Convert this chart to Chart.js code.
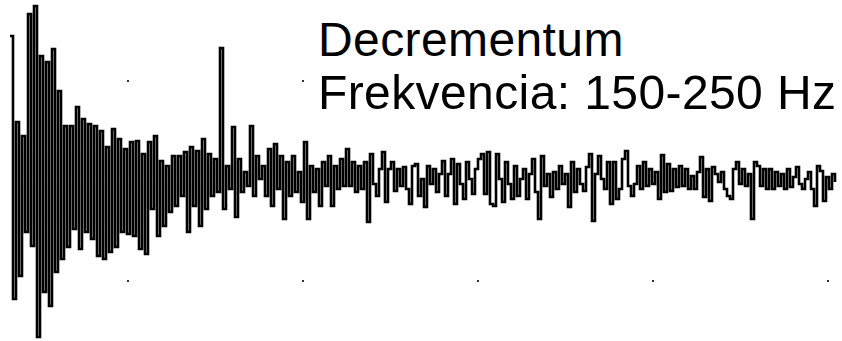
<!DOCTYPE html>
<html>
<head>
<meta charset="utf-8">
<script src="https://cdn.jsdelivr.net/npm/chart.js@4/dist/chart.umd.min.js"></script>
<style>
html, body { margin: 0; padding: 0; background: #ffffff; }
#wrap { position: relative; width: 842px; height: 341px; overflow: hidden; background: #ffffff; }
#c { position: absolute; left: 0; top: 0; }
.lbl { position: absolute; left: 318px; font-family: "Liberation Sans", Arial, sans-serif; font-size: 48px; letter-spacing: 0.4px; line-height: 53px; color: #000; background: #ffffff; white-space: nowrap; }
</style>
</head>
<body>
<div id="wrap">
  <canvas id="c" width="842" height="341"></canvas>
  <div class="lbl" id="t1" style="top:13px"></div>
  <div class="lbl" id="t2" style="top:66px"></div>
</div>
<script>
// ---- text ----
const titleText = "Decrementum";
const subtitleText = "Frekvencia: 150-250 Hz";

// ---- sampling (ms) ----
const startTime = 11.4;
const samplePeriod = 0.6;

// ---- signal amplitude ----
const attack = [145,-118,59,-95,45,-51,167,-65,175,-156,125,-111,119,-125,132,-91,90,-78,55,-66,55,-48];
const decay = [74,-68,62,-51,57,-58,55,-75,50,-78,34,-71,52,-66,42,-51,32,-53,39,-55,40,-68,27,-73,39,-28,45,-55,20,-45,15,-31,25,-25,25];
const middle = [-15,29,-51,34,-25,30,-45,42,-28,27,-15,22,-11,133,-28,15,-8,54,-36,22,-11,9,-5,55,-15,25,2,15,-15,32,-25,37,-8,25,-38,19,-15,25,-11,9,-21,39,-38,15,-11,12,-25,19,-5,25,-25,15,-8,22,-5,32,-5,19,-11,15,-8,19,-41,27,-3];
const tailA = [-15,12,29,-21,12,19,-10,12,-5,14,-8,-23,15,17,-15,2,-26,15,-3,12,-11,7,20,-15,7,22,-23,17,-3,-18,19,2,-13,12,22,27,-13,29,-23,-25,27,2,-21,19,-3,-18,15,-15,2,12,-18,7,22,-11,-38,25,-5,7,-16,9,-8,15,-3,7,-26,19,-11,12,-3,-10,14,27,-40,7,25,2,-8,19];
const tailB = [-23,19,-18,-8,22,30,-5,-15,-3,15,-8,19,-5,12,-3,9,-18,26,-11,17,-10,12,-6,15,-5,12,-8,5,-8,9,24,-16,12,-20,14,7,-1,9,-8,-15,-18,12,19,-3,12,-5,7,-38,19,15,-5,12,-8,12,-8,9,-5,7,-8,12,-6,4,14,-3,-8,2,9,-8,-25,15,10,-20,4,-8,7,-1];

// ---- grid marks (axis tick values) ----
const gridTimes = [35, 70, 105, 140, 175];
const gridLevels = [100, -100];

document.getElementById('t1').textContent = titleText;
document.getElementById('t2').textContent = subtitleText;

const signal = [].concat(attack, decay, middle, tailA, tailB);
const points = signal.map((v, i) => ({ x: startTime + i * samplePeriod, y: v }));

const gridDots = {
  id: 'gridDots',
  beforeDatasetsDraw(chart) {
    const ctx = chart.ctx, xs = chart.scales.x, ys = chart.scales.y;
    ctx.save();
    ctx.fillStyle = '#333333';
    gridTimes.forEach(t => {
      gridLevels.forEach(l => {
        const px = Math.round(xs.getPixelForValue(t));
        const py = Math.round(ys.getPixelForValue(l));
        ctx.fillRect(px - 1, py - 1, 2, 2);
      });
    });
    ctx.restore();
  }
};

new Chart(document.getElementById('c'), {
  type: 'line',
  data: {
    datasets: [{
      data: points,
      borderColor: '#000000',
      borderWidth: 2.6,
      pointRadius: 0,
      stepped: true,
      tension: 0,
      fill: false
    }]
  },
  options: {
    responsive: false,
    animation: false,
    events: [],
    layout: { padding: 0 },
    plugins: { legend: { display: false }, tooltip: { enabled: false }, title: { display: false } },
    scales: {
      x: { type: 'linear', min: 9.4, max: 177.8, display: false },
      y: { type: 'linear', min: -160, max: 181, display: false }
    }
  },
  plugins: [gridDots]
});
</script>
</body>
</html>
